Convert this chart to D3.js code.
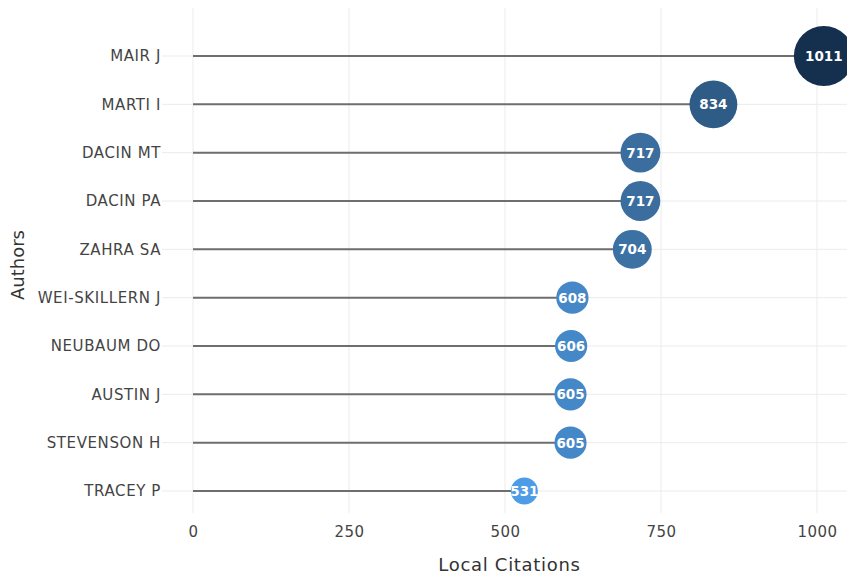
<!DOCTYPE html>
<html>
<head>
<meta charset="utf-8">
<script src="https://cdn.jsdelivr.net/npm/d3@7"></script>
<style>
  body { margin: 0; background: #fff; }
</style>
</head>
<body>
<div id="grafica"></div>
<script>
// data
var authors = ["MAIR J", "MARTI I", "DACIN MT", "DACIN PA", "ZAHRA SA",
               "WEI-SKILLERN J", "NEUBAUM DO", "AUSTIN J", "STEVENSON H", "TRACEY P"];
var citations = [1011, 834, 717, 717, 704, 608, 606, 605, 605, 531];
var xTicks = [0, 250, 500, 750, 1000];

var W = 847, H = 576;
var plot = {left: 162, right: 847, top: 8, bottom: 513};
var FONT = "'DejaVu Sans', Verdana, sans-serif";

var svg = d3.select("#grafica")
  .append("svg")
  .attr("width", W)
  .attr("height", H);

var x = d3.scaleLinear()
  .domain([0, 1000])
  .range([193, 817]);

var y = d3.scalePoint()
  .domain(authors)
  .range([56, 491]);

var r = d3.scaleLinear()
  .domain([531, 1011])
  .range([13.5, 30]);

// colour ramp, light blue (low) to dark navy (high)
var color = d3.scaleLinear()
  .domain([531, 605, 717, 834, 1011])
  .range(["#4e9be6", "#4588c8", "#3b6e9e", "#2e5c87", "#15304f"])
  .interpolate(d3.interpolateLab);

var data = authors.map(function(a, i) { return {author: a, value: citations[i]}; });

// grid
svg.append("g")
  .selectAll("line")
  .data(xTicks)
  .join("line")
    .attr("x1", function(d) { return x(d); })
    .attr("x2", function(d) { return x(d); })
    .attr("y1", plot.top)
    .attr("y2", plot.bottom)
    .attr("stroke", "#ebebeb")
    .attr("stroke-width", 1);

svg.append("g")
  .selectAll("line")
  .data(authors)
  .join("line")
    .attr("x1", plot.left)
    .attr("x2", plot.right)
    .attr("y1", function(d) { return y(d); })
    .attr("y2", function(d) { return y(d); })
    .attr("stroke", "#ebebeb")
    .attr("stroke-width", 1);

// x axis labels
var xAxis = svg.append("g")
  .attr("transform", "translate(0," + plot.bottom + ")")
  .call(d3.axisBottom(x).tickValues(xTicks).tickFormat(d3.format("d")).tickSize(0).tickPadding(13));
xAxis.select(".domain").remove();
xAxis.selectAll("text")
  .style("font-family", FONT)
  .style("font-size", "15px")
  .style("letter-spacing", "0.4px")
  .attr("fill", "#444");

// y axis labels
var yAxis = svg.append("g")
  .attr("transform", "translate(" + plot.left + ",0)")
  .call(d3.axisLeft(y).tickSize(0).tickPadding(1));
yAxis.select(".domain").remove();
yAxis.selectAll("text")
  .style("font-family", FONT)
  .style("font-size", "15px")
  .style("letter-spacing", "0.6px")
  .attr("fill", "#444");

// axis titles
svg.append("text")
  .attr("x", 509.5)
  .attr("y", 571)
  .style("text-anchor", "middle")
  .style("font-family", FONT)
  .style("font-size", "18px")
  .style("letter-spacing", "0.7px")
  .attr("fill", "#333")
  .text("Local Citations");

svg.append("text")
  .attr("transform", "rotate(-90)")
  .attr("x", -265)
  .attr("y", 24)
  .style("text-anchor", "middle")
  .style("font-family", FONT)
  .style("font-size", "18px")
  .attr("fill", "#333")
  .text("Authors");

// stems
svg.append("g")
  .selectAll("line")
  .data(data)
  .join("line")
    .attr("x1", x(0))
    .attr("x2", function(d) { return x(d.value); })
    .attr("y1", function(d) { return y(d.author); })
    .attr("y2", function(d) { return y(d.author); })
    .attr("stroke", "#6e6e6e")
    .attr("stroke-width", 2);

// bubbles
svg.append("g")
  .selectAll("circle")
  .data(data)
  .join("circle")
    .attr("cx", function(d) { return x(d.value); })
    .attr("cy", function(d) { return y(d.author); })
    .attr("r", function(d) { return r(d.value); })
    .attr("fill", function(d) { return color(d.value); });

svg.append("g")
  .selectAll("text")
  .data(data)
  .join("text")
    .attr("x", function(d) { return x(d.value); })
    .attr("y", function(d) { return y(d.author); })
    .attr("dy", "0.36em")
    .style("text-anchor", "middle")
    .style("font-family", FONT)
    .style("font-size", "13.5px")
    .style("font-weight", "bold")
    .attr("fill", "#fff")
    .text(function(d) { return d.value; });
</script>
</body>
</html>
